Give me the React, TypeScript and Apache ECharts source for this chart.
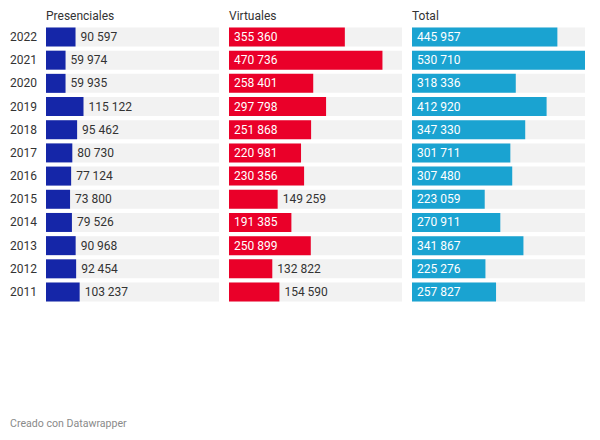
import React, { useEffect, useRef } from "react";
import * as echarts from "echarts";

const years = ["2022", "2021", "2020", "2019", "2018", "2017", "2016", "2015", "2014", "2013", "2012", "2011"];
const presenciales = [90597, 59974, 59935, 115122, 95462, 80730, 77124, 73800, 79526, 90968, 92454, 103237];
const virtuales = [355360, 470736, 258401, 297798, 251868, 220981, 230356, 149259, 191385, 250899, 132822, 154590];
const totales = [445957, 530710, 318336, 412920, 347330, 301711, 307480, 223059, 270911, 341867, 225276, 257827];
const panelTitles = ["Presenciales", "Virtuales", "Total"];
const panelColors = ["#1526a8", "#ea0029", "#1aa3d1"];

const FONT = "Roboto, 'Noto Sans', sans-serif";
const MAX = 530710;
const PANEL_W = 173;
const LEFTS = [46, 229, 412];

function fmt(v: number): string {
  return String(v).replace(/\B(?=(\d{3})+(?!\d))/g, " ");
}

export default function App() {
  const ref = useRef<HTMLDivElement>(null);
  useEffect(() => {
    document.body.style.margin = "0";
    const chart = echarts.init(ref.current!, null, { renderer: "svg" });
    const datasets = [presenciales, virtuales, totales];
    const grids = LEFTS.map((l) => ({ left: l, width: PANEL_W, top: 25.4, height: 278.2, containLabel: false }));
    const xAxes = LEFTS.map((_, i) => ({ type: "value", gridIndex: i, min: 0, max: MAX, show: false }));
    const yAxes = LEFTS.map((_, i) => ({
      type: "category",
      gridIndex: i,
      data: years,
      inverse: true,
      axisLine: { show: false },
      axisTick: { show: false },
      axisLabel: { show: i === 0, color: "#333333", fontSize: 12, fontFamily: FONT, margin: 9 },
    }));
    const series: any[] = [];
    datasets.forEach((vals, i) => {
      series.push({
        type: "bar",
        xAxisIndex: i,
        yAxisIndex: i,
        data: years.map(() => MAX),
        barWidth: 19,
        silent: true,
        itemStyle: { color: "#f2f2f2" },
        z: 1,
      });
      series.push({
        type: "bar",
        xAxisIndex: i,
        yAxisIndex: i,
        barWidth: 19,
        barGap: "-100%",
        z: 2,
        itemStyle: { color: panelColors[i] },
        data: vals.map((v) => {
          const px = (v / MAX) * PANEL_W;
          const inside = px > 55;
          return {
            value: v,
            label: {
              show: true,
              position: inside ? "insideLeft" : "right",
              distance: 5,
              color: inside ? "#ffffff" : "#333333",
              fontSize: 12,
              fontFamily: FONT,
              formatter: (p: any) => fmt(p.value),
            },
          };
        }),
      });
    });
    chart.setOption({
      animation: false,
      title: [
        ...panelTitles.map((t, i) => ({
          text: t,
          left: LEFTS[i],
          top: 10,
          textStyle: { fontSize: 12, fontWeight: "normal", color: "#333333", fontFamily: FONT },
          padding: 0,
        })),
        {
          text: "Creado con Datawrapper",
          left: 10,
          top: 418,
          padding: 0,
          textStyle: { fontSize: 10.6, fontWeight: "normal", color: "#8a8a8a", fontFamily: FONT },
        },
      ],
      grid: grids,
      xAxis: xAxes,
      yAxis: yAxes,
      series,
    });
    return () => chart.dispose();
  }, []);
  return <div ref={ref} style={{ width: 600, height: 440, background: "#ffffff" }} />;
}
